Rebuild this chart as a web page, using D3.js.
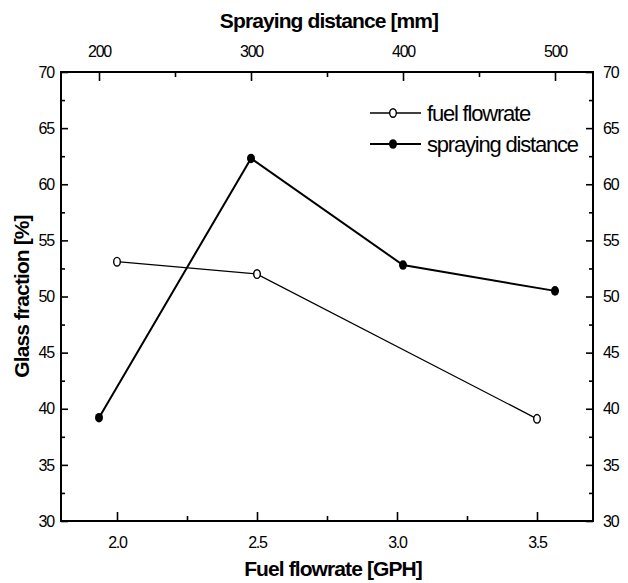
<!DOCTYPE html>
<html>
<head>
<meta charset="utf-8">
<script src="https://cdn.jsdelivr.net/npm/d3@7"></script>
<style>
  body { margin: 0; background: #fff; }
  text { font-family: "Liberation Sans", Arial, sans-serif; fill: #000; }
  .tick-label { font-size: 16px; letter-spacing: -1.2px; }
  .title { font-size: 21px; font-weight: bold; letter-spacing: -0.9px; }
  .legend { font-size: 22px; letter-spacing: -1.2px; }
</style>
</head>
<body>
<div id="chart"></div>
<script>
// fuel flowrate series (bottom axis, GPH)
var fuelRate = [2.0, 2.5, 3.5];
var fuelGlass = [53.1, 52.0, 39.1];
// spraying distance series (top axis, mm)
var sprayDist = [200, 300, 400, 500];
var sprayGlass = [39.2, 62.3, 52.8, 50.5];

var bottomTicks = [2.0, 2.5, 3.0, 3.5];
var topTicks = [200, 300, 400, 500];
var yTicks = [30, 35, 40, 45, 50, 55, 60, 65, 70];

var margin = { top: 72, right: 35, bottom: 62, left: 61 },
  width = 628 - margin.left - margin.right,
  height = 583 - margin.top - margin.bottom;

var svg = d3
  .select("#chart")
  .append("svg")
  .attr("width", 628)
  .attr("height", 583)
  .append("g")
  .attr("transform", "translate(" + margin.left + "," + margin.top + ")");

var x = d3.scaleLinear().domain([1.8, 3.7]).range([0, width]);
var x2 = d3.scaleLinear().domain([175, 525]).range([0, width]);
var y = d3.scaleLinear().domain([30, 70]).range([height, 0]);

function styleAxis(g) {
  g.select(".domain").remove();
  g.selectAll("line").attr("stroke", "#000").attr("stroke-width", 1.6);
  g.selectAll("text").attr("class", "tick-label");
}

// minor ticks
var xMinor = [2.25, 2.75, 3.25];
var x2Minor = [250, 350, 450];
var yMinor = [32.5, 37.5, 42.5, 47.5, 52.5, 57.5, 62.5, 67.5];

svg.append("g")
  .attr("transform", "translate(0," + height + ")")
  .call(d3.axisBottom(x).tickValues(bottomTicks).tickFormat(d3.format(".1f")).tickSize(-9).tickPadding(16))
  .call(styleAxis);
svg.append("g")
  .attr("transform", "translate(0," + height + ")")
  .call(d3.axisBottom(x).tickValues(xMinor).tickFormat("").tickSize(-5))
  .call(styleAxis);

svg.append("g")
  .call(d3.axisTop(x2).tickValues(topTicks).tickFormat(d3.format("d")).tickSize(-9).tickPadding(15))
  .call(styleAxis);
svg.append("g")
  .call(d3.axisTop(x2).tickValues(x2Minor).tickFormat("").tickSize(-5))
  .call(styleAxis);

svg.append("g")
  .call(d3.axisLeft(y).tickValues(yTicks).tickFormat(d3.format("d")).tickSize(-7).tickPadding(7))
  .call(styleAxis);
svg.append("g")
  .call(d3.axisLeft(y).tickValues(yMinor).tickFormat("").tickSize(-4))
  .call(styleAxis);

svg.append("g")
  .attr("transform", "translate(" + width + ",0)")
  .call(d3.axisRight(y).tickValues(yTicks).tickFormat(d3.format("d")).tickSize(-7).tickPadding(10))
  .call(styleAxis);
svg.append("g")
  .attr("transform", "translate(" + width + ",0)")
  .call(d3.axisRight(y).tickValues(yMinor).tickFormat("").tickSize(-4))
  .call(styleAxis);

// frame
svg.append("rect")
  .attr("width", width)
  .attr("height", height)
  .attr("fill", "none")
  .attr("stroke", "#000")
  .attr("stroke-width", 2);

var fuelData = fuelRate.map((d, i) => ({ x: d, y: fuelGlass[i] }));
var sprayData = sprayDist.map((d, i) => ({ x: d, y: sprayGlass[i] }));

svg.append("path")
  .datum(fuelData)
  .attr("fill", "none")
  .attr("stroke", "#000")
  .attr("stroke-width", 1.3)
  .attr("d", d3.line().x((d) => x(d.x)).y((d) => y(d.y)));

svg.append("path")
  .datum(sprayData)
  .attr("fill", "none")
  .attr("stroke", "#000")
  .attr("stroke-width", 2)
  .attr("d", d3.line().x((d) => x2(d.x)).y((d) => y(d.y)));

svg.selectAll(".fuel-pt")
  .data(fuelData)
  .enter()
  .append("ellipse")
  .attr("cx", (d) => x(d.x))
  .attr("cy", (d) => y(d.y))
  .attr("rx", 3.3)
  .attr("ry", 4.3)
  .attr("fill", "#fff")
  .attr("stroke", "#000")
  .attr("stroke-width", 1.4);

svg.selectAll(".spray-pt")
  .data(sprayData)
  .enter()
  .append("ellipse")
  .attr("cx", (d) => x2(d.x))
  .attr("cy", (d) => y(d.y))
  .attr("rx", 4)
  .attr("ry", 4.8)
  .attr("fill", "#000");

// legend
var legend = svg.append("g");
legend.append("line")
  .attr("x1", 309).attr("x2", 360)
  .attr("y1", 41).attr("y2", 41)
  .attr("stroke", "#000").attr("stroke-width", 1.3);
legend.append("ellipse")
  .attr("cx", 332).attr("cy", 41).attr("rx", 3.3).attr("ry", 4.3)
  .attr("fill", "#fff").attr("stroke", "#000").attr("stroke-width", 1.4);
legend.append("text")
  .attr("class", "legend")
  .attr("x", 366).attr("y", 41).attr("dy", "0.35em")
  .text("fuel flowrate");

legend.append("line")
  .attr("x1", 309).attr("x2", 360)
  .attr("y1", 72).attr("y2", 72)
  .attr("stroke", "#000").attr("stroke-width", 2);
legend.append("ellipse")
  .attr("cx", 332).attr("cy", 72).attr("rx", 4).attr("ry", 4.8)
  .attr("fill", "#000");
legend.append("text")
  .attr("class", "legend")
  .attr("x", 366).attr("y", 72).attr("dy", "0.35em")
  .text("spraying distance");

// axis titles
svg.append("text")
  .attr("class", "title")
  .attr("x", width / 2 + 2)
  .attr("y", -44)
  .attr("text-anchor", "middle")
  .text("Spraying distance [mm]");

svg.append("text")
  .attr("class", "title")
  .attr("x", width / 2 + 6)
  .attr("y", height + 55)
  .attr("text-anchor", "middle")
  .text("Fuel flowrate [GPH]");

svg.append("text")
  .attr("class", "title")
  .attr("transform", "translate(-32," + height / 2 + ") rotate(-90)")
  .attr("text-anchor", "middle")
  .text("Glass fraction [%]");
</script>
</body>
</html>
